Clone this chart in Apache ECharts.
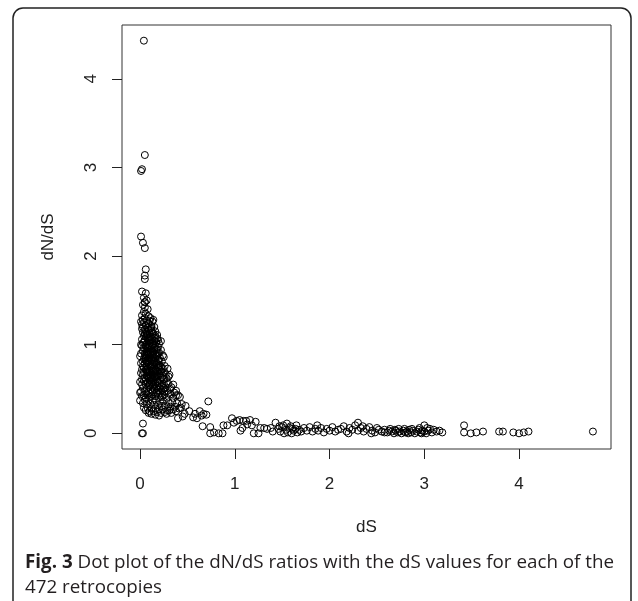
<!DOCTYPE html>
<html lang="en">
<head>
    <meta charset="UTF-8">
    <title>dN/dS vs dS</title>
    <style>
      html, body { margin: 0; padding: 0; background: #fff; }
    </style>
</head>
<body>
    <div id="img" style="height: 601px; width: 638px;"></div>

    <script src="https://cdn.jsdelivr.net/npm/echarts@6.0.0/dist/echarts.min.js"></script>
    <script type="text/javascript">
      // ticks shown on both axes
      var xTicks = [0, 1, 2, 3, 4];
      var yTicks = [0, 1, 2, 3, 4];

      // points, [dS, dN/dS]
      var highPoints = [
        [0.04,4.43],[0.05,3.14],[0.01,2.96],[0.02,2.98],[0.01,2.22],[0.03,2.15],[0.05,2.09],
        [0.06,1.85],[0.05,1.78],[0.05,1.74],[0.02,1.60],[0.06,1.58],[0.04,1.53],[0.05,1.48]
      ];
      var clusterTop = [
        [0.03,1.45],[0.05,1.42],[0.08,1.40],[0.04,1.37],[0.06,1.35],[0.02,1.33],[0.09,1.32],[0.05,1.30],
        [0.11,1.30],[0.03,1.28],[0.07,1.27],[0.13,1.26],[0.04,1.25],[0.09,1.24],[0.02,1.23],[0.06,1.22],
        [0.12,1.21],[0.15,1.20],[0.03,1.20],[0.08,1.19],[0.10,1.27],[0.01,1.26],[0.05,1.48],[0.07,1.50],
        [0.14,1.28],
        [0.02,1.18],[0.05,1.17],[0.09,1.17],[0.12,1.16],[0.16,1.15],[0.03,1.14],[0.07,1.13],[0.10,1.13],
        [0.14,1.12],[0.18,1.11],[0.04,1.10],[0.06,1.09],[0.11,1.09],[0.15,1.08],[0.08,1.07],[0.02,1.06],
        [0.13,1.06],[0.19,1.05],[0.05,1.05],[0.09,1.04],[0.17,1.03],[0.03,1.02],[0.11,1.02],[0.07,1.01],
        [0.14,1.00],[0.20,1.01],[0.06,1.15],[0.12,1.19],[0.08,1.12],[0.10,1.08],[0.04,1.03],[0.16,1.10],
        [0.01,1.00],[0.13,1.14],[0.18,1.07],[0.22,1.04],[0.09,1.00],[0.05,1.12],[0.15,1.04],[0.11,1.18]
      ];
      var clusterMid = [
        [0.02,0.99],[0.06,0.98],[0.10,0.98],[0.15,0.97],[0.19,0.97],[0.04,0.96],[0.08,0.95],[0.12,0.95],
        [0.17,0.94],[0.22,0.94],[0.03,0.93],[0.07,0.92],[0.11,0.92],[0.14,0.91],[0.20,0.91],[0.05,0.90],
        [0.09,0.89],[0.13,0.89],[0.18,0.88],[0.24,0.88],[0.00,0.87],[0.06,0.86],[0.10,0.86],[0.16,0.85],
        [0.21,0.85],[0.04,0.84],[0.08,0.83],[0.12,0.83],[0.15,0.82],[0.19,0.82],[0.03,0.81],[0.07,0.80],
        [0.11,0.80],[0.14,0.80],[0.23,0.81],[0.09,0.97],[0.13,0.93],[0.16,0.90],[0.05,0.88],[0.10,0.84],
        [0.17,0.87],[0.12,0.99],[0.07,0.89],[0.25,0.86],[0.01,0.90],[0.14,0.86],[0.20,0.83],[0.06,0.82],
        [0.09,0.92],[0.18,0.95],
        [0.01,0.79],[0.05,0.79],[0.09,0.78],[0.13,0.78],[0.17,0.77],[0.21,0.77],[0.26,0.76],[0.03,0.76],
        [0.07,0.75],[0.11,0.75],[0.15,0.74],[0.19,0.74],[0.24,0.73],[0.29,0.73],[0.02,0.72],[0.06,0.72],
        [0.10,0.71],[0.14,0.71],[0.18,0.70],[0.22,0.70],[0.04,0.69],[0.08,0.69],[0.12,0.68],[0.16,0.68],
        [0.20,0.67],[0.27,0.67],[0.31,0.66],[0.03,0.66],[0.07,0.65],[0.11,0.65],[0.15,0.64],[0.19,0.64],
        [0.23,0.63],[0.05,0.63],[0.09,0.62],[0.13,0.62],[0.17,0.61],[0.25,0.61],[0.28,0.62],[0.02,0.61],
        [0.06,0.60],[0.10,0.60],[0.14,0.60],[0.21,0.60],[0.12,0.77],[0.08,0.73],[0.16,0.72],[0.04,0.74],
        [0.18,0.66],[0.22,0.75],[0.26,0.69],[0.30,0.64],[0.01,0.68],[0.13,0.66],[0.09,0.67],[0.20,0.72],
        [0.24,0.65],[0.11,0.63],[0.07,0.70],[0.15,0.79]
      ];
      var clusterDense = [
        [0.07,1.11],[0.10,1.05],[0.13,1.03],[0.06,1.00],[0.16,0.99],[0.08,0.93],[0.15,0.94],[0.11,0.89],
        [0.19,0.90],[0.06,0.85],[0.14,0.84],[0.09,0.81],[0.17,0.80],[0.12,0.74],[0.20,0.76],[0.10,0.69],
        [0.17,0.71],[0.14,0.67],[0.22,0.68],[0.08,0.64],[0.16,0.63],[0.12,0.60],[0.19,0.58],[0.10,0.56],
        [0.16,0.55],[0.21,0.51],[0.13,0.52],[0.26,0.47],[0.18,0.46],[0.24,0.43]
      ];
      var clusterLow = [
        [0.00,0.58],[0.04,0.59],[0.08,0.58],[0.12,0.58],[0.16,0.57],[0.20,0.57],[0.25,0.56],[0.30,0.56],
        [0.35,0.55],[0.02,0.55],[0.06,0.55],[0.10,0.54],[0.14,0.54],[0.18,0.53],[0.22,0.53],[0.27,0.52],
        [0.33,0.52],[0.03,0.51],[0.07,0.51],[0.11,0.50],[0.15,0.50],[0.19,0.49],[0.24,0.49],[0.29,0.48],
        [0.38,0.48],[0.01,0.47],[0.05,0.47],[0.09,0.46],[0.13,0.46],[0.17,0.45],[0.21,0.45],[0.26,0.44],
        [0.32,0.44],[0.40,0.43],[0.00,0.46],[0.04,0.43],[0.08,0.43],[0.12,0.42],[0.16,0.42],[0.20,0.41],
        [0.23,0.41],[0.28,0.40],[0.35,0.40],[0.42,0.41],[0.06,0.40],[0.10,0.41],[0.14,0.57],[0.18,0.59],
        [0.23,0.55],[0.28,0.58],[0.32,0.50],[0.36,0.46],[0.09,0.52],[0.13,0.48],[0.17,0.51],[0.21,0.47],
        [0.25,0.51],[0.30,0.45],[0.02,0.42],[0.38,0.43],
        [0.00,0.37],[0.05,0.38],[0.09,0.38],[0.13,0.37],[0.17,0.37],[0.21,0.36],[0.25,0.36],[0.30,0.35],
        [0.34,0.35],[0.39,0.34],[0.44,0.33],[0.03,0.34],[0.07,0.33],[0.11,0.33],[0.15,0.32],[0.19,0.32],
        [0.23,0.31],[0.27,0.31],[0.32,0.30],[0.37,0.30],[0.48,0.31],[0.04,0.29],[0.08,0.29],[0.12,0.28],
        [0.16,0.28],[0.20,0.27],[0.24,0.27],[0.29,0.26],[0.35,0.27],[0.41,0.28],[0.06,0.26],[0.10,0.25],
        [0.14,0.25],[0.18,0.24],[0.22,0.23],[0.26,0.24],[0.33,0.23],[0.38,0.25],[0.12,0.22],[0.16,0.21],
        [0.28,0.22],[0.20,0.20],[0.31,0.26],[0.09,0.23],[0.43,0.29],
        [0.03,0.11],[0.02,0.00],[0.03,0.00],[0.40,0.17]
      ];
      var tailNear = [
        [0.56,0.18],[0.60,0.17],[0.65,0.20],[0.70,0.21],[0.67,0.22],[0.72,0.36],[0.66,0.08],[0.74,0.07],
        [0.74,0.00],[0.83,0.00],[0.87,0.00],[0.88,0.09],[0.92,0.09],[0.52,0.25],[0.47,0.22],[0.45,0.19],
        [0.97,0.17],[0.63,0.25],[0.58,0.22],[0.78,0.01],
        [0.99,0.12],[1.02,0.14],[1.05,0.15],[1.09,0.14],[1.12,0.14],[1.16,0.15],[1.06,0.03],[1.08,0.06],
        [1.22,0.13],[1.20,0.00],[1.25,0.00],[1.27,0.06],[1.31,0.06],[1.34,0.05],[1.38,0.06],[1.43,0.12],
        [1.46,0.05],[1.48,0.02],[1.50,0.07],[1.52,0.00],[1.54,0.04],[1.56,0.01],[1.58,0.06],[1.60,0.00],
        [1.62,0.03],[1.64,0.05],[1.66,0.01],[1.68,0.04],[1.70,0.02],[1.73,0.06],[1.76,0.03],[1.79,0.07],
        [1.82,0.02],[1.85,0.05],[1.88,0.03],[1.91,0.06],[1.94,0.01],[1.97,0.05],[2.00,0.03],[2.03,0.07],
        [2.06,0.02],[2.09,0.04],[1.13,0.10],[1.18,0.09],[1.40,0.02],[1.51,0.09],[1.59,0.08],[1.65,0.09],
        [1.87,0.09],[1.55,0.11],[1.47,0.08],[1.61,0.05]
      ];
      var tailFar = [
        [2.12,0.05],[2.15,0.08],[2.18,0.02],[2.21,0.06],[2.24,0.04],[2.27,0.09],[2.30,0.12],[2.30,0.03],
        [2.33,0.06],[2.36,0.02],[2.39,0.05],[2.42,0.07],[2.45,0.03],[2.48,0.01],[2.52,0.04],[2.55,0.02],
        [2.58,0.04],[2.61,0.01],[2.63,0.03],[2.66,0.02],[2.68,0.00],[2.70,0.03],[2.72,0.01],[2.74,0.02],
        [2.76,0.00],[2.78,0.03],[2.80,0.01],[2.82,0.02],[2.84,0.04],[2.86,0.01],[2.88,0.03],[2.90,0.00],
        [2.92,0.02],[2.94,0.04],[2.96,0.01],[2.98,0.03],[3.00,0.09],[3.00,0.02],[3.02,0.00],[3.04,0.03],
        [3.06,0.05],[3.08,0.01],[3.10,0.04],[3.13,0.02],[3.16,0.03],[3.19,0.01],[2.69,0.04],[2.79,0.05],
        [2.87,0.05],[2.95,0.06],[3.03,0.06],[2.73,0.05],[2.83,0.00],[2.97,0.00],[2.64,0.05],[2.58,0.01],
        [2.35,0.08],[2.20,0.00],[2.50,0.06],[2.44,0.00],
        [3.42,0.09],[3.42,0.01],[3.49,0.00],[3.55,0.01],[3.62,0.02],[3.79,0.02],[3.83,0.02],[3.94,0.01],
        [4.00,0.00],[4.05,0.01],[4.10,0.02],[4.78,0.02]
      ];

      var allPoints = [].concat(highPoints, clusterTop, clusterMid, clusterDense, clusterLow, tailNear, tailFar);

      var myChart = echarts.init(document.getElementById('img'));
      var axisFont = {fontFamily: 'Liberation Sans, Arial, sans-serif', fontSize: 17, color: '#222'};

      var option = {
        animation: false,
        backgroundColor: '#fff',
        grid: {
          left: 122, right: 27, top: 25, bottom: 152,
          show: true, borderColor: '#333', borderWidth: 1,
          containLabel: false, outerBoundsMode: 'none'
        },
        xAxis: {
          type: 'value',
          min: -0.191, max: 4.971,
          name: 'dS', nameLocation: 'middle', nameGap: 70,
          nameTextStyle: axisFont,
          axisLine: {show: false, onZero: false},
          splitLine: {show: false},
          axisTick: {show: true, inside: false, customValues: xTicks, length: 10, lineStyle: {color: '#222', width: 1}},
          axisLabel: {customValues: xTicks, margin: 27, fontFamily: axisFont.fontFamily, fontSize: 17, color: '#222'}
        },
        yAxis: {
          type: 'value',
          min: -0.177, max: 4.607,
          name: 'dN/dS', nameLocation: 'middle', nameGap: 65,
          nameTextStyle: axisFont,
          axisLine: {show: false, onZero: false},
          splitLine: {show: false},
          axisTick: {show: true, inside: false, customValues: yTicks, length: 10, lineStyle: {color: '#222', width: 1}},
          axisLabel: {customValues: yTicks, rotate: 90, margin: 22, fontFamily: axisFont.fontFamily, fontSize: 17, color: '#222'}
        },
        graphic: [
          {
            type: 'rect',
            shape: {x: 13, y: 8, width: 618, height: 640, r: 10},
            style: {fill: 'none', stroke: '#222', lineWidth: 1.5},
            silent: true
          },
          {
            type: 'text',
            left: 25, top: 550,
            style: {
              text: '{b|Fig. 3} Dot plot of the dN/dS ratios with the dS values for each of the\n472 retrocopies',
              fontFamily: 'Open Sans, sans-serif',
              fontSize: 18.8,
              lineHeight: 25,
              fill: '#231f20',
              rich: {
                b: {fontWeight: 'bold', fontFamily: 'Open Sans, sans-serif', fontSize: 18.8, lineHeight: 25, fill: '#231f20'}
              }
            }
          }
        ],
        series: [
          {
            name: 'dN/dS',
            type: 'scatter',
            data: allPoints,
            symbol: 'circle',
            symbolSize: 7,
            itemStyle: {color: 'rgba(0,0,0,0)', borderColor: '#000', borderWidth: 1, opacity: 1}
          }
        ]
      };
      myChart.setOption(option);
    </script>
</body>
</html>
